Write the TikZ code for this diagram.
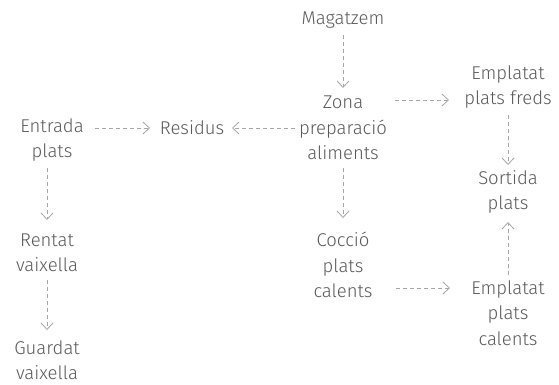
\documentclass[tikz,border=0pt]{standalone}
\usepackage{fontspec}
\setmainfont{Fira Sans}[UprightFont={* Light}]
\usetikzlibrary{arrows.meta}
\definecolor{txt}{HTML}{595959}
\definecolor{arr}{HTML}{A6A6A6}
\tikzset{
  lbl/.style={text=txt, align=center, inner sep=0pt, font=\fontsize{18.5}{25.5}\selectfont},
  flow/.style={draw=arr, line width=0.8pt, dash pattern=on 4pt off 3pt, -{Straight Barb[length=6.5pt,width=12pt,line width=0.8pt]}}
}
\begin{document}
\begin{tikzpicture}[x=1pt,y=-1pt]
\useasboundingbox (0,0) rectangle (559,385);
\node[lbl] (mag) at (343,20) {Magatzem};
\node[lbl] (zona) at (343,128) {Zona\\preparació\\aliments};
\node[lbl] (efr) at (508,87) {Emplatat\\plats freds};
\node[lbl] (ent) at (52,140) {Entrada\\plats};
\node[lbl] (res) at (192,128) {Residus};
\node[lbl] (ren) at (47,253) {Rentat\\vaixella};
\node[lbl] (gua) at (47,360) {Guardat\\vaixella};
\node[lbl] (coc) at (343,265) {Cocció\\plats\\calents};
\node[lbl] (sor) at (508,192) {Sortida\\plats};
\node[lbl] (eca) at (508,313) {Emplatat\\plats\\calents};

\coordinate (a1) at (343,35);
\coordinate (b1) at (343,88);
\draw[flow] (a1) -- (b1);
\coordinate (z1) at (395,100);
\coordinate (z2) at (449,100);
\draw[flow] (z1) -- (z2);
\coordinate (z3) at (295,128);
\coordinate (r1) at (232,128);
\draw[flow] (z3) -- (r1);
\coordinate (e1) at (95,128);
\coordinate (r2) at (150,128);
\draw[flow] (e1) -- (r2);
\coordinate (e2) at (47,168);
\coordinate (n1) at (47,220);
\draw[flow] (e2) -- (n1);
\coordinate (n2) at (47,280);
\coordinate (g1) at (47,330);
\draw[flow] (n2) -- (g1);
\coordinate (z4) at (343,168);
\coordinate (c1) at (343,218);
\draw[flow] (z4) -- (c1);
\coordinate (f1) at (508,115);
\coordinate (s1) at (508,165);
\draw[flow] (f1) -- (s1);
\coordinate (k1) at (508,275);
\coordinate (s2) at (508,222);
\draw[flow] (k1) -- (s2);
\coordinate (c2) at (396,288);
\coordinate (k2) at (450,288);
\draw[flow] (c2) -- (k2);
\end{tikzpicture}
\end{document}
